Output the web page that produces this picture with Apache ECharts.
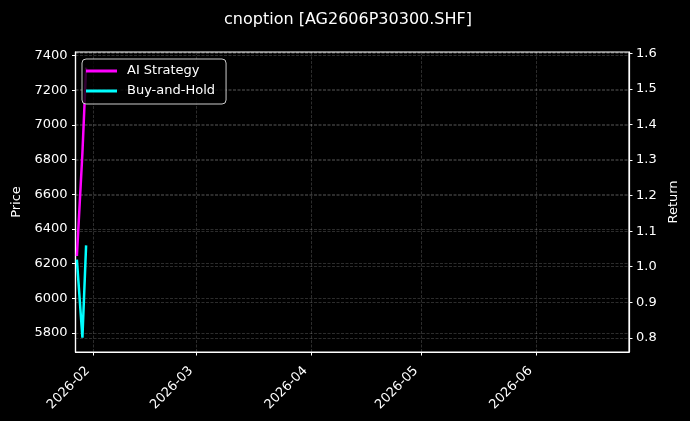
<!DOCTYPE html>
<html>
<head>
<meta charset="utf-8">
<script src="https://cdn.jsdelivr.net/npm/echarts@6/dist/echarts.min.js"></script>
<style>
html,body{margin:0;padding:0;background:#000;}
#chart{width:690px;height:421px;}
</style>
</head>
<body>
<div id="chart"></div>
<script>
// ---- data ----
const dates = ['2026-01-27T12:00:00', '2026-01-29T00:00:00', '2026-01-30T00:00:00'];
const aiStrategy = [1.03, 1.32, 1.56];
const buyAndHold = [1.02, 0.80, 1.06];
const seriesNames = ['AI Strategy', 'Buy-and-Hold'];
const titleText = 'cnoption [AG2606P30300.SHF]';
const priceRange = [5691, 7421];
const returnRange = [0.760, 1.604];
const xRange = ['2026-01-27T03:00:00', '2026-06-26T05:00:00'];

const FONT = 'DejaVu Sans';
const chart = echarts.init(document.getElementById('chart'), null, {renderer: 'canvas'});
const grid = 'rgba(255,255,255,0.22)';

function pairs(vals) { return dates.map((d, i) => [new Date(d).getTime(), vals[i]]); }

const option = {
  backgroundColor: '#000',
  animation: false,
  title: {
    text: titleText, left: 348, top: 12, padding: 0, textAlign: 'center',
    textStyle: {color: '#fff', fontFamily: FONT, fontSize: 16, fontWeight: 'normal'}
  },
  legend: {
    orient: 'vertical', left: 82, top: 59,
    padding: [4, 11, 5, 4], itemGap: 4,
    itemWidth: 31, itemHeight: 3, icon: 'rect',
    backgroundColor: 'rgba(0,0,0,0.8)', borderColor: '#cccccc', borderWidth: 1, borderRadius: 4,
    textStyle: {color: '#fff', fontFamily: FONT, fontSize: 13, lineHeight: 16, padding: [0, 0, 0, 5]},
    data: seriesNames
  },
  grid: {
    left: 75.5, right: 61, top: 52, bottom: 69, show: true,
    outerBoundsMode: 'none', containLabel: false,
    borderColor: '#fff', borderWidth: 1.2, backgroundColor: '#000'
  },
  xAxis: {
    type: 'time',
    min: new Date(xRange[0]).getTime(), max: new Date(xRange[1]).getTime(),
    splitNumber: 5,
    minInterval: 28 * 864e5, maxInterval: 31 * 864e5,
    axisLine: {show: true, lineStyle: {color: '#fff', width: 1.2}},
    axisTick: {show: true, inside: false, length: 3.5, lineStyle: {color: '#fff', width: 1}},
    axisLabel: {
      color: '#fff', fontFamily: FONT, fontSize: 13, rotate: 45, margin: 11,
      padding: [0, 8, 0, 0],
      showMinLabel: false, showMaxLabel: false, interval: 0,
      formatter: function (v) {
        const d = new Date(v);
        return d.getFullYear() + '-' + String(d.getMonth() + 1).padStart(2, '0');
      }
    },
    splitLine: {show: true, lineStyle: {color: grid, width: 0.8, type: [3, 1.5]}}
  },
  yAxis: [
    {
      type: 'value', position: 'left', min: priceRange[0], max: priceRange[1], splitNumber: 8,
      name: 'Price', nameLocation: 'middle', nameGap: 51, nameRotate: 90,
      nameTextStyle: {color: '#fff', fontFamily: FONT, fontSize: 13},
      axisLine: {show: true, lineStyle: {color: '#fff', width: 1.2}},
      axisTick: {show: true, length: 3.5, lineStyle: {color: '#fff', width: 1}},
      axisLabel: {
        color: '#fff', fontFamily: FONT, fontSize: 13, margin: 8, showMinLabel: false, showMaxLabel: false,
        formatter: v => String(Math.round(v))
      },
      splitLine: {show: true, lineStyle: {color: grid, width: 0.8, type: [3, 1.5]}}
    },
    {
      type: 'value', position: 'right', min: returnRange[0], max: returnRange[1], splitNumber: 8,
      name: 'Return', nameLocation: 'middle', nameGap: 36, nameRotate: 90,
      nameTextStyle: {color: '#fff', fontFamily: FONT, fontSize: 13},
      axisLine: {show: true, lineStyle: {color: '#fff', width: 1.2}},
      axisTick: {show: true, length: 3.5, lineStyle: {color: '#fff', width: 1}},
      axisLabel: {
        color: '#fff', fontFamily: FONT, fontSize: 13, margin: 7, showMinLabel: false, showMaxLabel: false,
        formatter: v => v.toFixed(1)
      },
      splitLine: {show: true, lineStyle: {color: grid, width: 0.8, type: [3, 1.5]}}
    }
  ],
  series: [
    {
      name: seriesNames[0], type: 'line', yAxisIndex: 1, symbol: 'none', clip: true,
      color: '#ff00ff', lineStyle: {color: '#ff00ff', width: 2.5},
      data: pairs(aiStrategy)
    },
    {
      name: seriesNames[1], type: 'line', yAxisIndex: 1, symbol: 'none', clip: true,
      color: '#00ffff', lineStyle: {color: '#00ffff', width: 2.5},
      data: pairs(buyAndHold)
    }
  ]
};
chart.setOption(option);
</script>
</body>
</html>
